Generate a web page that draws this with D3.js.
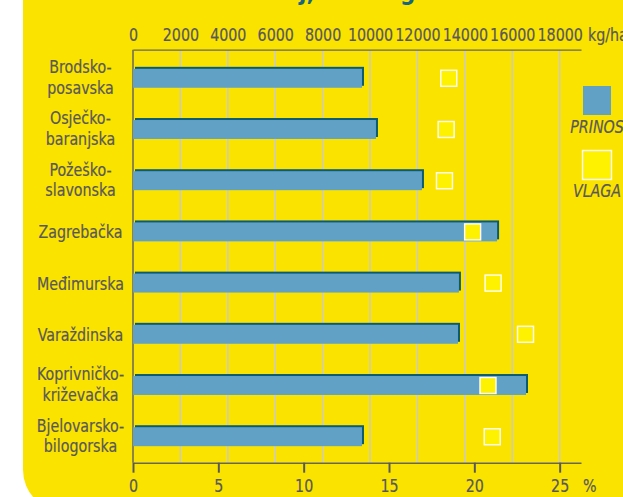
<html>
  <head>
    <meta charset="utf-8">
    <title>Prinos i vlaga</title>
    <script src="https://d3js.org/d3.v7.min.js"></script>
    <style type="text/css">
      body {
        margin: 0;
        background: #fff;
      }
      svg {
        display: block;
      }
      text {
        font-family: "Liberation Sans Narrow", "DejaVu Sans Condensed", sans-serif;
        fill: #58585a;
        stroke: #58585a;
        stroke-width: 0.2px;
      }
    </style>
  </head>
  <body>
    <div id="chart"></div>
  </body>
</html>
<script type="text/javascript">
  const width = 623,
    height = 497,
    k = 0.88; // narrow the condensed font a bit more

  // counties, two lines each where the label breaks
  const counties = [
    ["Brodsko-", "posavska"],
    ["Osječko-", "baranjska"],
    ["Požeško-", "slavonska"],
    ["Zagrebačka"],
    ["Međimurska"],
    ["Varaždinska"],
    ["Koprivničko-", "križevačka"],
    ["Bjelovarsko-", "bilogorska"]
  ];
  const prinos = [9660, 10250, 12190, 15360, 13750, 13710, 16580, 9660]; // kg/ha
  const vlaga = [18.5, 18.35, 18.25, 19.9, 21.1, 23.0, 20.8, 21.05];     // %
  const kgTicks = [0, 2000, 4000, 6000, 8000, 10000, 12000, 14000, 16000, 18000];
  const pctTicks = [0, 5, 10, 15, 20, 25];

  const names = counties.map(function(d) { return d.join(""); });

  const svg = d3.select("#chart").append("svg")
    .attr("width", width)
    .attr("height", height);

  // yellow panel with rounded bottom-left corner
  svg.append("path")
    .attr("d", "M23,0 H623 V511 H64 A41,41 0 0 1 23,470 Z")
    .attr("fill", "#fbe300");

  // cut-off title above
  const title = svg.append("g")
    .style("font-weight", "bold")
    .style("font-size", "24px");
  title.append("text").attr("x", 299).attr("y", 0).style("fill", "#17657e").style("stroke", "none").text("j,");
  title.append("text").attr("x", 400).attr("y", 0).style("fill", "#17657e").style("stroke", "none").text("g");

  const x = d3.scaleLinear().domain([0, 18900]).range([133, 581]);
  const xp = d3.scaleLinear().domain([0, 26.25]).range([133, 581]);
  const y = d3.scaleBand()
    .domain(names)
    .range([52.7, 462.3])
    .paddingInner(0.63)
    .paddingOuter(0.315);

  const plotTop = 49.7, plotBottom = 462.7;

  // grid
  svg.append("g").selectAll("line")
    .data(kgTicks.slice(1))
    .enter().append("line")
      .attr("x1", function(d) { return x(d); })
      .attr("x2", function(d) { return x(d); })
      .attr("y1", plotTop)
      .attr("y2", plotBottom)
      .attr("stroke", "#cdcbbd")
      .attr("stroke-width", 1.6);

  // top axis (kg/ha)
  const topAxis = svg.append("g")
    .attr("transform", "translate(0," + plotTop + ")")
    .call(d3.axisTop(x).tickValues(kgTicks).tickSize(0).tickPadding(9).tickFormat(d3.format("d")));
  topAxis.select(".domain").attr("stroke", "#67665a").attr("stroke-width", 1.2);
  topAxis.selectAll("text")
    .style("font-size", "18px")
    .attr("fill", "#58585a")
    .attr("transform", "scale(" + k + ",1)");
  svg.append("text")
    .attr("x", 588 / k).attr("y", 40.7)
    .attr("transform", "scale(" + k + ",1)")
    .style("font-size", "18px")
    .text("kg/ha");

  // bottom axis (%)
  const botAxis = svg.append("g")
    .attr("transform", "translate(0," + plotBottom + ")")
    .call(d3.axisBottom(xp).tickValues(pctTicks).tickSizeOuter(0).tickSizeInner(10).tickPadding(7));
  botAxis.select(".domain").attr("stroke", "#67665a").attr("stroke-width", 1.6);
  botAxis.selectAll(".tick line").attr("stroke", "#58585a").attr("stroke-width", 2);
  botAxis.selectAll("text")
    .style("font-size", "18px")
    .attr("fill", "#58585a")
    .attr("transform", "scale(" + k + ",1)");
  svg.append("text")
    .attr("x", 583 / k).attr("y", 492)
    .attr("transform", "scale(" + k + ",1)")
    .style("font-size", "18px")
    .text("%");

  // left axis line
  svg.append("line")
    .attr("x1", 133).attr("x2", 133)
    .attr("y1", plotTop).attr("y2", plotBottom)
    .attr("stroke", "#67665a")
    .attr("stroke-width", 1.5);

  // category labels
  const labels = svg.append("g").selectAll("text")
    .data(counties)
    .enter().append("text")
      .attr("text-anchor", "middle")
      .attr("transform", "scale(" + k + ",1)")
      .style("font-size", "18px")
      .attr("y", function(d, i) {
        const c = y(names[i]) + y.bandwidth() / 2;
        return d.length > 1 ? c - 5 : c + 6.5;
      });
  labels.selectAll("tspan")
    .data(function(d) { return d; })
    .enter().append("tspan")
      .attr("x", 80.5 / k)
      .attr("dy", function(d, i) { return i ? 20.5 : 0; })
      .text(function(d) { return d; });

  // bars: dark shadow then blue body
  const bars = svg.append("g");
  bars.selectAll(".shadow")
    .data(prinos)
    .enter().append("rect")
      .attr("class", "shadow")
      .attr("x", x(0) + 2)
      .attr("y", function(d, i) { return y(names[i]) - 2; })
      .attr("width", function(d) { return x(d) - x(0); })
      .attr("height", y.bandwidth())
      .attr("fill", "#0b5b72");
  bars.selectAll(".bar")
    .data(prinos)
    .enter().append("rect")
      .attr("class", "bar")
      .attr("x", x(0))
      .attr("y", function(d, i) { return y(names[i]); })
      .attr("width", function(d) { return x(d) - x(0); })
      .attr("height", y.bandwidth())
      .attr("fill", "#62a1c6");

  // moisture squares
  const s = 16;
  svg.append("g").selectAll("rect")
    .data(vlaga)
    .enter().append("rect")
      .attr("x", function(d) { return xp(d) - s / 2; })
      .attr("y", function(d, i) { return y(names[i]) + y.bandwidth() / 2 - s / 2; })
      .attr("width", s)
      .attr("height", s)
      .attr("fill", "#fff200")
      .attr("stroke", "#ffffff")
      .attr("stroke-width", 1.4);

  // legend
  const legend = svg.append("g");
  legend.append("rect")
    .attr("x", 583).attr("y", 86)
    .attr("width", 28).attr("height", 29)
    .attr("fill", "#62a1c6");
  legend.append("text")
    .attr("x", 597 / k).attr("y", 133)
    .attr("transform", "scale(" + k + ",1)")
    .attr("text-anchor", "middle")
    .style("font-size", "18px")
    .style("font-style", "italic")
    .text("PRINOS");
  legend.append("rect")
    .attr("x", 582.5).attr("y", 150.5)
    .attr("width", 29).attr("height", 29)
    .attr("fill", "#fff200")
    .attr("stroke", "#ffffff")
    .attr("stroke-width", 1.4);
  legend.append("text")
    .attr("x", 597 / k).attr("y", 197.5)
    .attr("transform", "scale(" + k + ",1)")
    .attr("text-anchor", "middle")
    .style("font-size", "18px")
    .style("font-style", "italic")
    .text("VLAGA");
</script>
